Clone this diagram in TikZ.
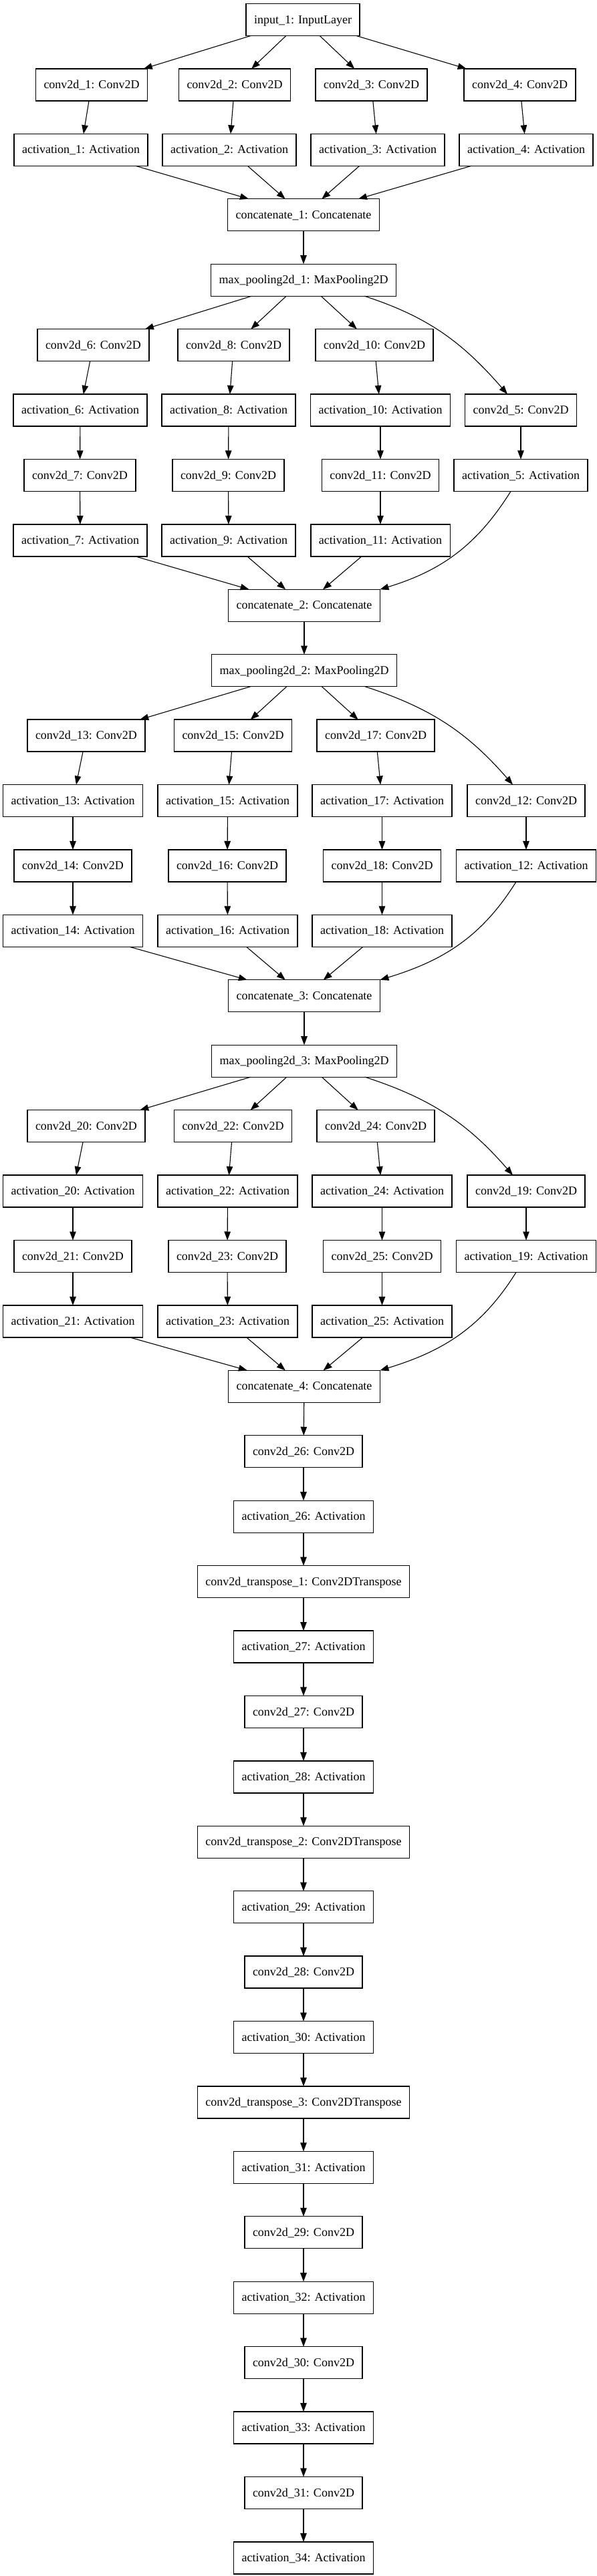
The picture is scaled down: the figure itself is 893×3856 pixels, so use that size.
\documentclass[tikz,border=0pt]{standalone}
\usepackage{fontspec}
\newfontfamily\tnr{Liberation Serif}
\usetikzlibrary{arrows.meta}
\tikzset{
  box/.style={draw=black, line width=1.3pt, rectangle, minimum height=48pt,
    inner xsep=12pt, inner ysep=0pt, text height=13pt, text depth=1.8pt,
    outer sep=0pt, font=\tnr\fontsize{18}{22}\selectfont},
  edge/.style={draw=black, line width=1.1pt, -{Triangle[length=13pt,width=9.5pt]}}
}
\newcommand{\RY}[1]{-29.5pt-97.42pt*#1}
\begin{document}
\begin{tikzpicture}
\useasboundingbox (0,0) rectangle (893pt,-3856pt);
% row 0-4
\node[box] (inp) at (453pt,{\RY{0}}) {input\_1: InputLayer};
\node[box] (c1) at (137pt,{\RY{1}}) {conv2d\_1: Conv2D};
\node[box] (c2) at (351pt,{\RY{1}}) {conv2d\_2: Conv2D};
\node[box] (c3) at (555.5pt,{\RY{1}}) {conv2d\_3: Conv2D};
\node[box] (c4) at (777.5pt,{\RY{1}}) {conv2d\_4: Conv2D};
\node[box] (a1) at (121pt,{\RY{2}}) {activation\_1: Activation};
\node[box] (a2) at (343pt,{\RY{2}}) {activation\_2: Activation};
\node[box] (a3) at (565pt,{\RY{2}}) {activation\_3: Activation};
\node[box] (a4) at (787pt,{\RY{2}}) {activation\_4: Activation};
\node[box] (ct1) at (454pt,{\RY{3}}) {concatenate\_1: Concatenate};
\node[box] (mp1) at (454pt,{\RY{4}}) {max\_pooling2d\_1: MaxPooling2D};
% block 2
\node[box] (c6) at (139.5pt,{\RY{5}}) {conv2d\_6: Conv2D};
\node[box] (c8) at (349.5pt,{\RY{5}}) {conv2d\_8: Conv2D};
\node[box] (c10) at (560pt,{\RY{5}}) {conv2d\_10: Conv2D};
\node[box] (a6) at (120pt,{\RY{6}}) {activation\_6: Activation};
\node[box] (a8) at (342pt,{\RY{6}}) {activation\_8: Activation};
\node[box] (a10) at (569pt,{\RY{6}}) {activation\_10: Activation};
\node[box] (c5) at (779pt,{\RY{6}}) {conv2d\_5: Conv2D};
\node[box] (c7) at (119.5pt,{\RY{7}}) {conv2d\_7: Conv2D};
\node[box] (c9) at (341.5pt,{\RY{7}}) {conv2d\_9: Conv2D};
\node[box] (c11) at (569pt,{\RY{7}}) {conv2d\_11: Conv2D};
\node[box] (a5) at (779pt,{\RY{7}}) {activation\_5: Activation};
\node[box] (a7) at (120pt,{\RY{8}}) {activation\_7: Activation};
\node[box] (a9) at (342pt,{\RY{8}}) {activation\_9: Activation};
\node[box] (a11) at (569pt,{\RY{8}}) {activation\_11: Activation};
\node[box] (ct2) at (455pt,{\RY{9}}) {concatenate\_2: Concatenate};
\node[box] (mp2) at (455pt,{\RY{10}}) {max\_pooling2d\_2: MaxPooling2D};
% block 3
\node[box] (c13) at (129pt,{\RY{11}}) {conv2d\_13: Conv2D};
\node[box] (c15) at (348.5pt,{\RY{11}}) {conv2d\_15: Conv2D};
\node[box] (c17) at (562pt,{\RY{11}}) {conv2d\_17: Conv2D};
\node[box] (a13) at (109pt,{\RY{12}}) {activation\_13: Activation};
\node[box] (a15) at (340.5pt,{\RY{12}}) {activation\_15: Activation};
\node[box] (a17) at (571.5pt,{\RY{12}}) {activation\_17: Activation};
\node[box] (c12) at (787pt,{\RY{12}}) {conv2d\_12: Conv2D};
\node[box] (c14) at (109pt,{\RY{13}}) {conv2d\_14: Conv2D};
\node[box] (c16) at (340pt,{\RY{13}}) {conv2d\_16: Conv2D};
\node[box] (c18) at (571.5pt,{\RY{13}}) {conv2d\_18: Conv2D};
\node[box] (a12) at (787pt,{\RY{13}}) {activation\_12: Activation};
\node[box] (a14) at (109pt,{\RY{14}}) {activation\_14: Activation};
\node[box] (a16) at (340.5pt,{\RY{14}}) {activation\_16: Activation};
\node[box] (a18) at (571.5pt,{\RY{14}}) {activation\_18: Activation};
\node[box] (ct3) at (455pt,{\RY{15}}) {concatenate\_3: Concatenate};
\node[box] (mp3) at (455pt,{\RY{16}}) {max\_pooling2d\_3: MaxPooling2D};
% block 4
\node[box] (c20) at (129pt,{\RY{17}}) {conv2d\_20: Conv2D};
\node[box] (c22) at (348.5pt,{\RY{17}}) {conv2d\_22: Conv2D};
\node[box] (c24) at (562pt,{\RY{17}}) {conv2d\_24: Conv2D};
\node[box] (a20) at (109pt,{\RY{18}}) {activation\_20: Activation};
\node[box] (a22) at (340.5pt,{\RY{18}}) {activation\_22: Activation};
\node[box] (a24) at (571.5pt,{\RY{18}}) {activation\_24: Activation};
\node[box] (c19) at (787pt,{\RY{18}}) {conv2d\_19: Conv2D};
\node[box] (c21) at (109pt,{\RY{19}}) {conv2d\_21: Conv2D};
\node[box] (c23) at (340pt,{\RY{19}}) {conv2d\_23: Conv2D};
\node[box] (c25) at (571.5pt,{\RY{19}}) {conv2d\_25: Conv2D};
\node[box] (a19) at (787pt,{\RY{19}}) {activation\_19: Activation};
\node[box] (a21) at (109pt,{\RY{20}}) {activation\_21: Activation};
\node[box] (a23) at (340.5pt,{\RY{20}}) {activation\_23: Activation};
\node[box] (a25) at (571.5pt,{\RY{20}}) {activation\_25: Activation};
\node[box] (ct4) at (455pt,{\RY{21}}) {concatenate\_4: Concatenate};
% linear chain
\node[box] (c26) at (454pt,{\RY{22}}) {conv2d\_26: Conv2D};
\node[box] (a26) at (454pt,{\RY{23}}) {activation\_26: Activation};
\node[box] (tr1) at (454pt,{\RY{24}}) {conv2d\_transpose\_1: Conv2DTranspose};
\node[box] (a27) at (454pt,{\RY{25}}) {activation\_27: Activation};
\node[box] (c27) at (454pt,{\RY{26}}) {conv2d\_27: Conv2D};
\node[box] (a28) at (454pt,{\RY{27}}) {activation\_28: Activation};
\node[box] (tr2) at (454pt,{\RY{28}}) {conv2d\_transpose\_2: Conv2DTranspose};
\node[box] (a29) at (454pt,{\RY{29}}) {activation\_29: Activation};
\node[box] (c28) at (454pt,{\RY{30}}) {conv2d\_28: Conv2D};
\node[box] (a30) at (454pt,{\RY{31}}) {activation\_30: Activation};
\node[box] (tr3) at (454pt,{\RY{32}}) {conv2d\_transpose\_3: Conv2DTranspose};
\node[box] (a31) at (454pt,{\RY{33}}) {activation\_31: Activation};
\node[box] (c29) at (454pt,{\RY{34}}) {conv2d\_29: Conv2D};
\node[box] (a32) at (454pt,{\RY{35}}) {activation\_32: Activation};
\node[box] (c30) at (454pt,{\RY{36}}) {conv2d\_30: Conv2D};
\node[box] (a33) at (454pt,{\RY{37}}) {activation\_33: Activation};
\node[box] (c31) at (454pt,{\RY{38}}) {conv2d\_31: Conv2D};
\node[box] (a34) at (454pt,{\RY{39}}) {activation\_34: Activation};
% edges block 1
\foreach \i in {1,2,3,4} {
  \draw[edge] (inp) -- (c\i);
  \draw[edge] (c\i) -- (a\i);
  \draw[edge] (a\i) -- (ct1);
}
\draw[edge] (ct1) -- (mp1);
% block 2
\foreach \i/\j in {6/7,8/9,10/11} {
  \draw[edge] (mp1) -- (c\i);
  \draw[edge] (c\i) -- (a\i);
  \draw[edge] (a\i) -- (c\j);
  \draw[edge] (c\j) -- (a\j);
  \draw[edge] (a\j) -- (ct2);
}
\draw[edge] ([xshift=91pt]mp1.south) to[out=-18,in=131] ([xshift=-20pt]c5.north);
\draw[edge] (c5) -- (a5);
\draw[edge] ([xshift=-15pt]a5.south) to[out=-122,in=17] (ct2.north east);
\draw[edge] (ct2) -- (mp2);
% block 3
\foreach \i/\j in {13/14,15/16,17/18} {
  \draw[edge] (mp2) -- (c\i);
  \draw[edge] (c\i) -- (a\i);
  \draw[edge] (a\i) -- (c\j);
  \draw[edge] (c\j) -- (a\j);
  \draw[edge] (a\j) -- (ct3);
}
\draw[edge] ([xshift=91pt]mp2.south) to[out=-18,in=131] ([xshift=-20pt]c12.north);
\draw[edge] (c12) -- (a12);
\draw[edge] ([xshift=-15pt]a12.south) to[out=-122,in=17] (ct3.north east);
\draw[edge] (ct3) -- (mp3);
% block 4
\foreach \i/\j in {20/21,22/23,24/25} {
  \draw[edge] (mp3) -- (c\i);
  \draw[edge] (c\i) -- (a\i);
  \draw[edge] (a\i) -- (c\j);
  \draw[edge] (c\j) -- (a\j);
  \draw[edge] (a\j) -- (ct4);
}
\draw[edge] ([xshift=91pt]mp3.south) to[out=-18,in=131] ([xshift=-20pt]c19.north);
\draw[edge] (c19) -- (a19);
\draw[edge] ([xshift=-15pt]a19.south) to[out=-122,in=17] (ct4.north east);
% chain
\draw[edge] (ct4) -- (c26);
\draw[edge] (c26) -- (a26);
\draw[edge] (a26) -- (tr1);
\draw[edge] (tr1) -- (a27);
\draw[edge] (a27) -- (c27);
\draw[edge] (c27) -- (a28);
\draw[edge] (a28) -- (tr2);
\draw[edge] (tr2) -- (a29);
\draw[edge] (a29) -- (c28);
\draw[edge] (c28) -- (a30);
\draw[edge] (a30) -- (tr3);
\draw[edge] (tr3) -- (a31);
\draw[edge] (a31) -- (c29);
\draw[edge] (c29) -- (a32);
\draw[edge] (a32) -- (c30);
\draw[edge] (c30) -- (a33);
\draw[edge] (a33) -- (c31);
\draw[edge] (c31) -- (a34);
\end{tikzpicture}
\end{document}
